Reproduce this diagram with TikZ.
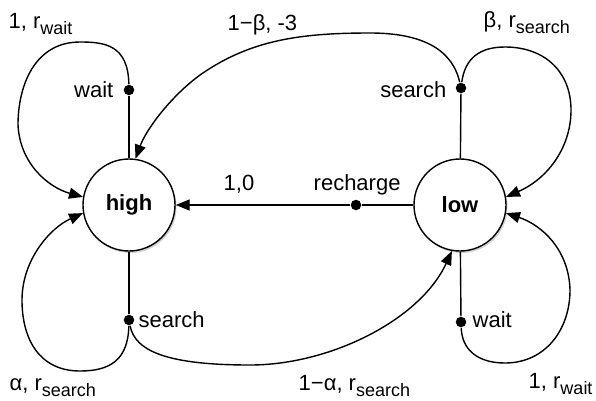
\documentclass[tikz,border=0pt]{standalone}
\usepackage{fontspec}
\setmainfont{Liberation Sans}
\usetikzlibrary{arrows.meta,shadows}
\newcommand\lowsub[1]{\raisebox{-6pt}{\fontsize{18}{18}\selectfont #1}}
\begin{document}
\begin{tikzpicture}[x=1pt,y=-1pt,line width=1.4pt,
  state/.style={circle,draw,fill=white,minimum size=92pt,inner sep=0pt,
    font=\fontsize{22}{24}\selectfont\bfseries,
    drop shadow={shadow xshift=1.5pt,shadow yshift=-2pt,fill=black!40,opacity=.45}},
  dotnode/.style={circle,fill=black,minimum size=10.5pt,inner sep=0pt},
  lbl/.style={font=\fontsize{22}{24}\selectfont,inner sep=0pt,anchor=base west},
  lble/.style={lbl,anchor=base east},
  arr/.style={-{Triangle[length=14pt,width=11pt]}}]
\useasboundingbox (0,0) rectangle (596,400);

\node[state] (high) at (129,205) {high};
\node[state] (low) at (460,205) {low};

\node[dotnode] (hw) at (129,90) {};
\node[dotnode] (hs) at (129,320) {};
\node[dotnode] (ls) at (461,88) {};
\node[dotnode] (lw) at (461,322) {};
\node[dotnode] (rc) at (356,205) {};

% stems
\draw (high) -- (hw);
\draw (high) -- (hs);
\draw (low) -- (ls);
\draw (low) -- (lw);
\draw (low) -- (rc);
\draw[arr] (rc) -- (high);

% high wait loop
\draw[arr] (hw) .. controls (128,45) and (105,42) .. (80,42)
  .. controls (35,42) and (18,85) .. (18,125)
  .. controls (20,165) and (50,188) .. (high.170);
% high search loop
\draw[arr] (hs) .. controls (128,360) and (110,371) .. (80,371)
  .. controls (40,371) and (22,340) .. (22,300)
  .. controls (22,260) and (50,228) .. (high.190);
% high search -> low
\draw[arr] (hs) .. controls (135,352) and (170,365) .. (250,365)
  .. controls (330,365) and (420,320) .. (low.-100);
% low search loop
\draw[arr] (ls) .. controls (465,58) and (480,47) .. (505,47)
  .. controls (545,47) and (571,72) .. (571,110)
  .. controls (571,150) and (545,180) .. (low.10);
% low search -> high
\draw[arr] (ls) .. controls (452,48) and (420,33) .. (370,33)
  .. controls (300,33) and (250,40) .. (200,75)
  .. controls (170,97) and (146,130) .. (high.82);
% low wait loop
\draw[arr] (lw) .. controls (462,350) and (478,363) .. (505,363)
  .. controls (545,363) and (570,330) .. (570,290)
  .. controls (569,250) and (542,225) .. (low.-10);

% labels
\node[lbl] (l1) at (8,28) {1, r\lowsub{wait}};
\node[lble] (l2) at (114,97) {wait};
\node[lbl] (l3) at (227,30) {1−β, -3};
\node[lbl] (l4) at (483,27) {β, r\lowsub{search}};
\node[lble] (l5) at (447,97) {search};
\node[lbl] (l6) at (223,190) {1,0};
\node[lbl] (l7) at (313,190) {recharge};
\node[lbl] (l8) at (138,327) {search};
\node[lbl] (l9) at (472,327) {wait};
\node[lbl] (l10) at (9,390) {α, r\lowsub{search}};
\node[lbl] (l11) at (298,390) {1−α, r\lowsub{search}};
\node[lbl] (l12) at (528,388) {1, r\lowsub{wait}};
\end{tikzpicture}
\end{document}
